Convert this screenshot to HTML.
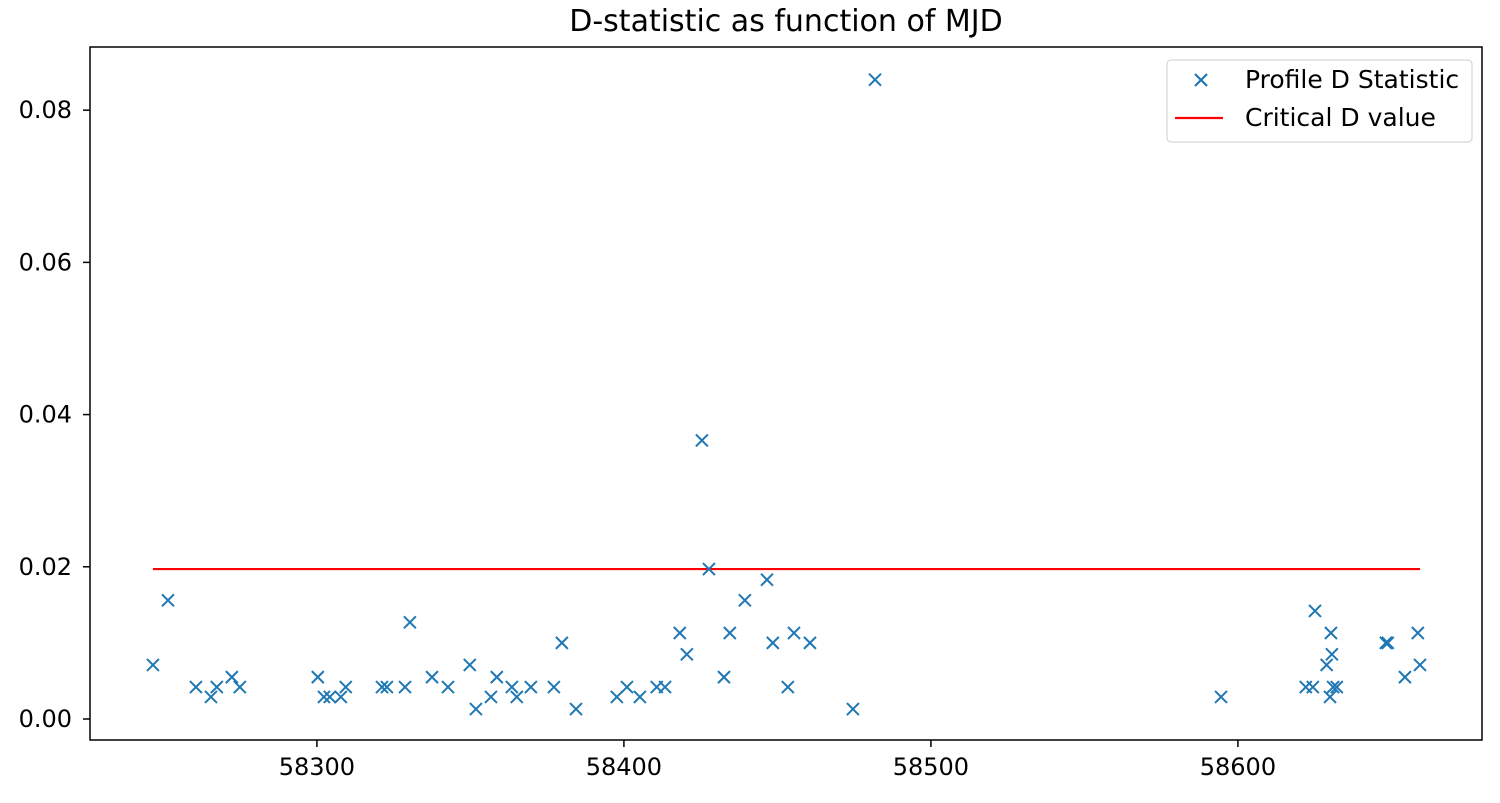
<!DOCTYPE html>
<html><head><meta charset="utf-8"><style>
body{margin:0;background:#fff;}
svg text{font-family:"DejaVu Sans","Liberation Sans",sans-serif;fill:#000;}
</style></head><body>
<svg id="chart" width="1500" height="798">
<text x="786" y="31" font-size="30" text-anchor="middle" fill="#111">D-statistic as function of MJD</text>
<g id="marks"></g>
<rect x="90" y="47" width="1392" height="693" fill="none" stroke="#000" stroke-width="1.5"/>
<g id="axes"></g>
<g>
<rect x="1167" y="60" width="305" height="82" rx="4" fill="#fff" fill-opacity="0.8" stroke="#ccc"/>
<g>
<path d="M1195,74 L1207,86 M1207,74 L1195,86" stroke="#1f77b4" stroke-width="2.2"/>
<text x="1245" y="88" font-size="25" fill="#222">Profile D Statistic</text></g>
<g>
<line x1="1175" y1="118" x2="1223" y2="118" stroke="#ff0000" stroke-width="2.2"/>
<text x="1245" y="126" font-size="25" fill="#222">Critical D value</text></g>
</g>
</svg>
<script>
const mjd=[58246.6,58251.5,58260.6,58265.5,58267.4,58272.3,58274.9,58300.3,58302.3,58304.2,58307.8,58309.4,58321.2,58322.8,58328.7,58330.3,58337.5,58342.7,58349.8,58351.8,58356.7,58358.6,58363.5,58365.1,58369.7,58377.2,58379.8,58384.4,58397.7,58401.0,58405.2,58410.7,58413.4,58418.2,58420.5,58425.4,58427.7,58432.6,58434.5,58439.4,58446.6,58448.5,58453.4,58455.4,58460.6,58474.6,58481.8,58594.5,58622.1,58624.4,58625.1,58628.9,58630.0,58630.3,58630.6,58631.0,58632.2,58648.2,58648.8,58654.4,58658.6,58659.3];
const dstat=[0.0071,0.0156,0.0042,0.0029,0.0042,0.0055,0.0042,0.0055,0.0029,0.0029,0.0029,0.0042,0.0042,0.0042,0.0042,0.0127,0.0055,0.0042,0.0071,0.0013,0.0029,0.0055,0.0042,0.0029,0.0042,0.0042,0.0100,0.0013,0.0029,0.0042,0.0029,0.0042,0.0042,0.0113,0.0085,0.0366,0.0197,0.0055,0.0113,0.0156,0.0183,0.0100,0.0042,0.0113,0.0100,0.0013,0.0840,0.0029,0.0042,0.0042,0.0142,0.0071,0.0029,0.0113,0.0085,0.0042,0.0042,0.0100,0.0100,0.0055,0.0113,0.0071];
const criticalD=0.0197;
const xTicks=[58300,58400,58500,58600];
const yTicks=[0,0.02,0.04,0.06,0.08];
const yTickLabels=["0.00","0.02","0.04","0.06","0.08"];
const X0=58226.1,X1=58679.5,Y0=-0.00276,Y1=0.0883;
function sx(v){return 90+(v-X0)/(X1-X0)*1392;}
function sy(v){return 740-(v-Y0)/(Y1-Y0)*693;}
const NS="http://www.w3.org/2000/svg";
const marks=document.getElementById('marks'),axes=document.getElementById('axes');
const line=document.createElementNS(NS,'line');
line.setAttribute('x1',sx(Math.min(...mjd)));line.setAttribute('x2',sx(Math.max(...mjd)));
line.setAttribute('y1',sy(criticalD));line.setAttribute('y2',sy(criticalD));
line.setAttribute('stroke','#ff0000');line.setAttribute('stroke-width','2.2');


marks.appendChild(line);
mjd.forEach((m,i)=>{const x=sx(m),y=sy(dstat[i]);const p=document.createElementNS(NS,'path');
p.setAttribute('d',`M${x-6},${y-6}L${x+6},${y+6}M${x+6},${y-6}L${x-6},${y+6}`);
p.setAttribute('stroke','#1f77b4');p.setAttribute('stroke-width','2');


marks.appendChild(p);});
xTicks.forEach(t=>{const x=sx(t);const l=document.createElementNS(NS,'line');
l.setAttribute('x1',x);l.setAttribute('x2',x);l.setAttribute('y1',740);l.setAttribute('y2',747);l.setAttribute('stroke','#000');l.setAttribute('stroke-width','1.5');


axes.appendChild(l);
const tx=document.createElementNS(NS,'text');tx.setAttribute('x',x);tx.setAttribute('y',775);tx.setAttribute('font-size','24');tx.setAttribute('text-anchor','middle');tx.setAttribute('fill','#222');tx.textContent=t;


axes.appendChild(tx);});
yTicks.forEach((t,i)=>{const y=sy(t);const l=document.createElementNS(NS,'line');
l.setAttribute('x1',83);l.setAttribute('x2',90);l.setAttribute('y1',y);l.setAttribute('y2',y);l.setAttribute('stroke','#000');l.setAttribute('stroke-width','1.5');


axes.appendChild(l);
const tx=document.createElementNS(NS,'text');tx.setAttribute('x',72);tx.setAttribute('y',y+8);tx.setAttribute('font-size','24');tx.setAttribute('text-anchor','end');tx.setAttribute('fill','#222');tx.textContent=yTickLabels[i];


axes.appendChild(tx);});
</script>
</body></html>
